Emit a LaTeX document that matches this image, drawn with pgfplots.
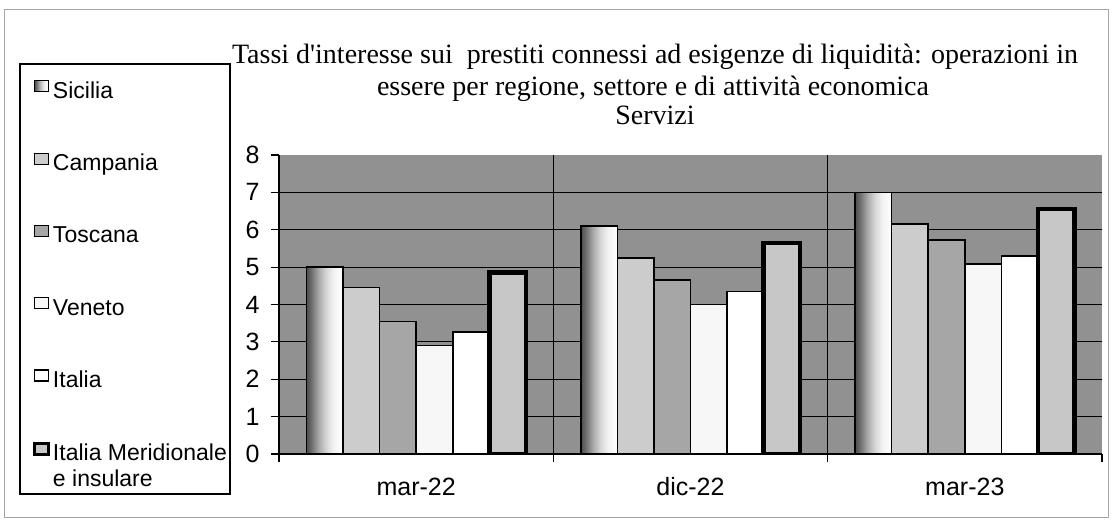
\documentclass[border=0pt]{standalone}
\usepackage{fontspec}
\setmainfont{Liberation Sans}
\newfontfamily\titlefont{Liberation Serif}
\usepackage{pgfplots}
\pgfplotsset{compat=1.18}
\pgfdeclarehorizontalshading{sicshade}{100bp}{color(0bp)=(black!70); color(25bp)=(black!70); color(32bp)=(black!56); color(42bp)=(black!33); color(52bp)=(black!16); color(62bp)=(black!5); color(75bp)=(white); color(100bp)=(white)}
\definecolor{bgc}{gray}{0.57}
\definecolor{campc}{gray}{0.80}
\definecolor{tosc}{gray}{0.65}
\definecolor{venc}{gray}{0.97}
\definecolor{itac}{gray}{1.0}
\definecolor{imic}{gray}{0.78}
\begin{document}
\begin{tikzpicture}[x=1pt,y=1pt]
\path[use as bounding box] (0,0) rectangle (1112,524);
\draw[gray!70, line width=1pt] (4,6) rectangle (1108,514);
% legend frame
\draw[black, line width=1.2pt] (20,30) rectangle (230,460);
% title
\node[anchor=base, font=\titlefont\fontsize{28}{32}\selectfont] at (655,460) {Tassi d'interesse sui\ \ prestiti connessi ad esigenze di liquidità: operazioni in};
\node[anchor=base, font=\titlefont\fontsize{28}{32}\selectfont] at (653,428) {essere per regione, settore e di attività economica};
\node[anchor=base, font=\titlefont\fontsize{28}{32}\selectfont] at (655,399) {Servizi};
\begin{axis}[at={(279pt,70pt)}, anchor=south west, scale only axis,
  width=823pt, height=299pt,
  xmin=-0.5, xmax=2.5, ymin=0, ymax=8,
  ybar=0pt, bar width=0.1333,
  axis background/.style={fill=bgc},
  axis x line*=bottom, axis y line*=left,
  axis line style={line width=1.2pt, -},
  tick align=outside, major tick length=8pt,
  tick style={black, line width=1.2pt},
  xtick={-0.5,0.5,1.5,2.5}, xticklabels={},
  extra x ticks={0,1,2}, extra x tick labels={mar-22,dic-22,mar-23},
  extra x tick style={major tick length=0pt, tick label style={anchor=base, yshift=-42pt}},
  minor xtick={0.5,1.5}, xminorgrids=true, minor tick length=0pt,
  minor grid style={black, line width=1.2pt},
  ytick={0,1,...,7}, ymajorgrids=true,
  extra y ticks={8}, extra y tick style={grid=none},
  major grid style={black, line width=1.2pt},
  /pgf/number format/assume math mode=true,
  ticklabel style={font=\fontsize{25}{30}\selectfont},
  yticklabel style={xshift=-8pt},
  legend style={at={(-0.2989,1.2508)}, anchor=north west, draw=none, fill=none,
    inner sep=0pt, row sep=49.2pt, column sep=3pt,
    nodes={inner sep=0pt, text height=16pt, text depth=5pt, font=\fontsize{23}{26}\selectfont}},
  legend cell align=left,
]
\addplot[draw=black, line width=1.6pt, shading=sicshade, bar shift=-0.3333,
  legend image code/.code={\draw[draw=black,line width=1.2pt,fill=black!40] (0pt,1pt) rectangle (14pt,12pt);}]
  coordinates {(0,5.0)};
\addlegendentry{Sicilia}
\addplot[forget plot, draw=black, line width=1.6pt, shading=sicshade, bar shift=-0.3333]
  coordinates {(1,6.1)};
\addplot[forget plot, draw=black, line width=1.6pt, shading=sicshade, bar shift=-0.3333]
  coordinates {(2,7.0)};
\addplot[draw=black, line width=1.6pt, fill=campc, bar shift=-0.2,
  legend image code/.code={\draw[draw=black,line width=1.2pt,fill=campc] (0pt,1pt) rectangle (14pt,12pt);}]
  coordinates {(0,4.45) (1,5.25) (2,6.15)};
\addlegendentry{Campania}
\addplot[draw=black, line width=1.6pt, fill=tosc, bar shift=-0.0667,
  legend image code/.code={\draw[draw=black,line width=1.2pt,fill=tosc] (0pt,1pt) rectangle (14pt,12pt);}]
  coordinates {(0,3.55) (1,4.65) (2,5.72)};
\addlegendentry{Toscana}
\addplot[draw=black, line width=1.6pt, fill=venc, bar shift=0.0667,
  legend image code/.code={\draw[draw=black,line width=1.2pt,fill=venc] (0pt,1pt) rectangle (14pt,12pt);}]
  coordinates {(0,2.9) (1,4.0) (2,5.08)};
\addlegendentry{Veneto}
\addplot[draw=black, line width=1.6pt, fill=itac, bar shift=0.2,
  legend image code/.code={\draw[draw=black,line width=1.2pt,fill=itac] (0pt,1pt) rectangle (14pt,12pt);}]
  coordinates {(0,3.27) (1,4.35) (2,5.3)};
\addlegendentry{Italia}
\addplot[draw=black, line width=4.5pt, fill=imic, bar shift=0.3333,
  legend image code/.code={\draw[draw=black,line width=2.8pt,fill=imic] (0pt,1pt) rectangle (14pt,12pt);}]
  coordinates {(0,4.85) (1,5.65) (2,6.55)};
\addlegendentry{\begin{tabular}[t]{@{}l@{}}Italia Meridionale\\e insulare\end{tabular}}
\end{axis}
\end{tikzpicture}
\end{document}
